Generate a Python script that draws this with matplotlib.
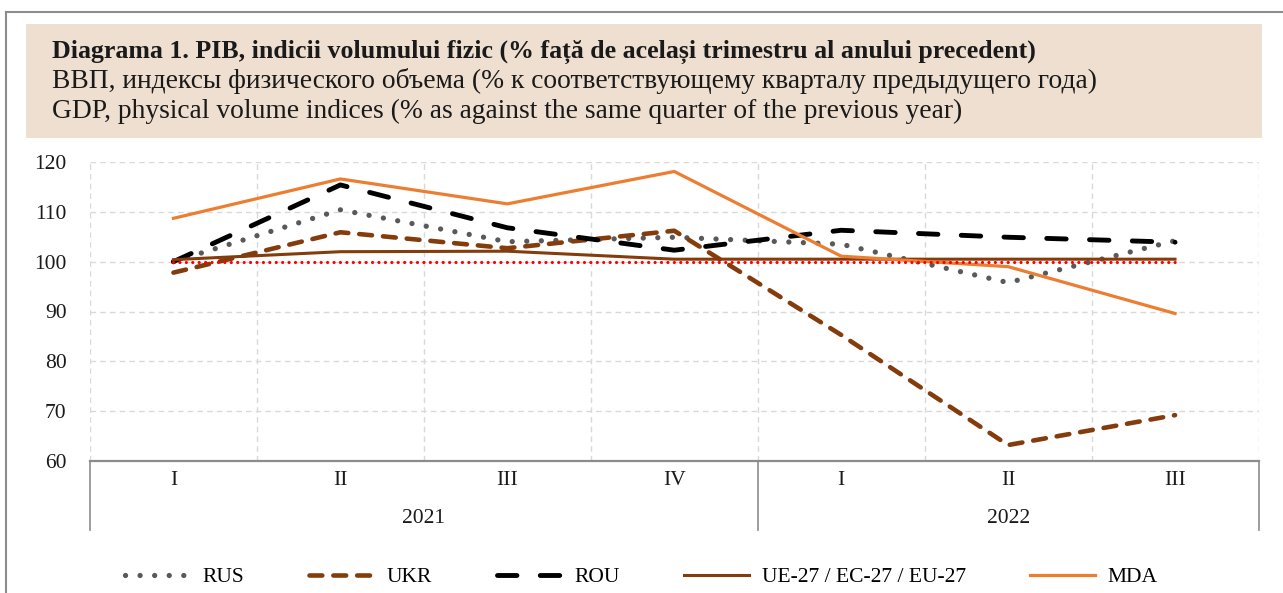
import matplotlib
matplotlib.use("Agg")
import matplotlib.pyplot as plt
import matplotlib.transforms as mtransforms
from matplotlib.lines import Line2D
from matplotlib.patches import Rectangle
import numpy as np

plt.rcParams['font.family'] = ['Liberation Serif', 'DejaVu Serif']

# data
quarters = ['I', 'II', 'III', 'IV', 'I', 'II', 'III']
years = ['2021', '2022']
year_counts = [4, 3]

rus = [100.0, 110.4, 104.0, 104.9, 103.5, 95.8, 104.2]
ukr = [97.8, 105.9, 102.7, 106.2, 85.3, 63.2, 69.2]
rou = [100.0, 115.4, 106.8, 102.3, 106.3, 104.9, 103.9]
eu27 = [100.4, 102.0, 102.1, 100.5, 100.5, 100.5, 100.5]
mda = [108.7, 116.6, 111.6, 118.1, 101.1, 99.0, 89.6]
base = [100] * 7

title_lines = [
    "Diagrama 1. PIB, indicii volumului fizic (% față de același trimestru al anului precedent)",
    "ВВП, индексы физического объема (% к соответствующему кварталу предыдущего года)",
    "GDP, physical volume indices (% as against the same quarter of the previous year)",
]

W, H = 1283, 593
fig = plt.figure(figsize=(W / 100, H / 100), dpi=100)

# outer frame (only left and top edges are visible)
fig.add_artist(Line2D([6 / W, 6 / W], [0, 1 - 12 / H], color='#8c8c8c', lw=1.5))
fig.add_artist(Line2D([6 / W, 1], [1 - 12 / H, 1 - 12 / H], color='#8c8c8c', lw=1.5))

# title box
fig.add_artist(Rectangle((26 / W, 1 - 138 / H), (1262 - 26) / W, 114 / H,
                         facecolor='#EEDFD0', edgecolor='none'))
fig.text(52 / W, 1 - 58 / H, title_lines[0], fontsize=18.6, fontweight='bold',
         va='baseline', ha='left', color='#1a1a1a')
fig.text(52 / W, 1 - 88 / H, title_lines[1], fontsize=19.8,
         va='baseline', ha='left', color='#1a1a1a')
fig.text(52 / W, 1 - 118 / H, title_lines[2], fontsize=19.8,
         va='baseline', ha='left', color='#1a1a1a')

ax = fig.add_axes([90 / W, 1 - 461 / H, (1258.5 - 90) / W, (461 - 162) / H])
x = np.arange(len(quarters))

ax.plot(x, rus, color='#595959', lw=3.8, dashes=(0.01, 2.75),
        dash_capstyle='round', label='RUS', zorder=3)
ax.plot(x, ukr, color='#843C0C', lw=3.3, dashes=(2.8, 2.4),
        dash_capstyle='round', label='UKR', zorder=4)
ax.plot(x, rou, color='black', lw=3.5, dashes=(4.0, 4.8),
        dash_capstyle='round', label='ROU', zorder=5)
ax.plot(x, eu27, color='#843C0C', lw=2.2, label='UE-27 / EC-27 / EU-27', zorder=6)
ax.plot(x, mda, color='#ED7D31', lw=2.3, label='MDA', zorder=7)
ax.plot(x, base, color='#FF0000', lw=2.3, dashes=(0.01, 2.0),
        dash_capstyle='round', zorder=8)

ax.set_xlim(-0.5, len(quarters) - 0.5)
ax.set_ylim(60, 120)
ax.set_yticks(np.arange(60, 121, 10))
ax.set_xticks([])
ax.set_xticks(np.arange(-0.5, len(quarters), 1), minor=True)
ax.tick_params(axis='both', which='both', length=0, labelsize=15.5, labelcolor='#1a1a1a')
ax.tick_params(axis='y', pad=17)
ax.tick_params(axis='x', which='minor', labelbottom=False)
ax.grid(axis='y', color='#D9D9D9', linestyle=(0, (4, 3)), lw=1)
ax.grid(axis='x', which='minor', color='#D9D9D9', linestyle=(0, (4, 3)), lw=1)
for s in ['left', 'right', 'top']:
    ax.spines[s].set_visible(False)
ax.spines['bottom'].set_color('#8c8c8c')
ax.spines['bottom'].set_linewidth(1.6)

# multi-level category axis
trans = mtransforms.blended_transform_factory(ax.transData, ax.transAxes)
for i, q in enumerate(quarters):
    ax.text(i, -0.066, q, transform=trans, ha='center', va='center',
            fontsize=15.5, color='#1a1a1a')
edges = np.concatenate([[0], np.cumsum(year_counts)]) - 0.5
for xe in edges:
    ax.plot([xe, xe], [0, -0.232], transform=trans, color='#8c8c8c', lw=1.2,
            clip_on=False)
for k, yr in enumerate(years):
    ax.text((edges[k] + edges[k + 1]) / 2, -0.192, yr, transform=trans,
            ha='center', va='center', fontsize=15.5, color='#1a1a1a')

handles, labels = ax.get_legend_handles_labels()
fig.legend(handles, labels, loc='center', bbox_to_anchor=(0.5, 1 - 577 / H),
           ncol=5, frameon=False, fontsize=15.5, handlelength=3.0,
           handletextpad=0.6, columnspacing=3.0)

fig.savefig('out.png', dpi=100)
